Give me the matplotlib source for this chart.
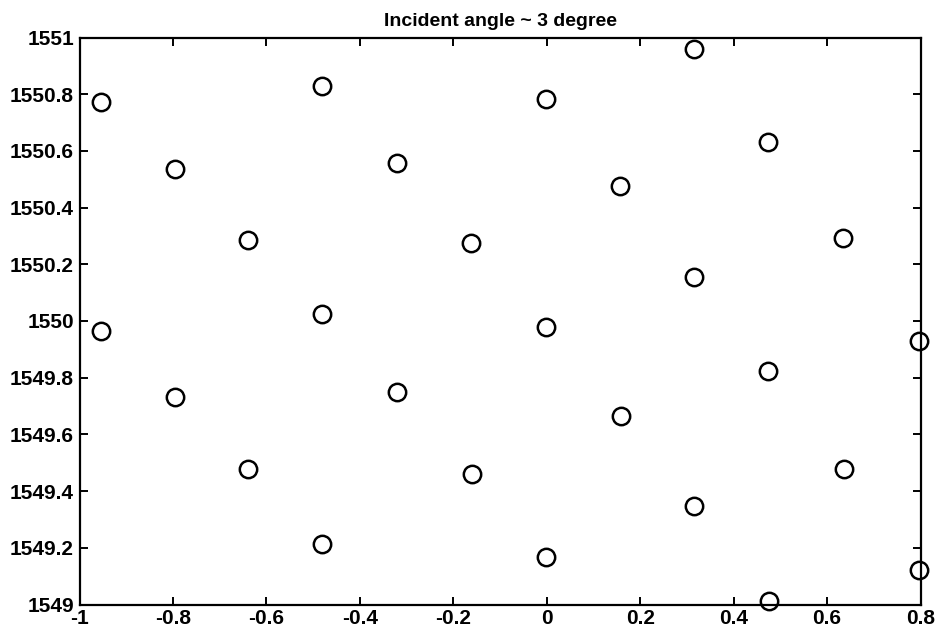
import matplotlib
matplotlib.use("Agg")
import matplotlib.pyplot as plt

# Data (wavelength vs position)
x_vals = [-0.955, -0.480, -0.796, -0.639, -0.955, -0.480,
          -0.002, -0.320, 0.157, -0.161, -0.001,
          0.315, 0.474, 0.635, 0.315,
          -0.796, -0.639, -0.481,
          -0.320, 0.158, -0.160, -0.001,
          0.796, 0.473, 0.636, 0.316, 0.797, 0.476]
y_vals = [1550.774, 1550.830, 1550.535, 1550.284, 1549.965, 1550.024,
          1550.784, 1550.558, 1550.477, 1550.274, 1549.978,
          1550.960, 1550.630, 1550.293, 1550.156,
          1549.732, 1549.477, 1549.212,
          1549.749, 1549.666, 1549.462, 1549.166,
          1549.930, 1549.823, 1549.477, 1549.348, 1549.120, 1549.014]

title_text = "Incident angle ~ 3 degree"
x_ticks = [-1, -0.8, -0.6, -0.4, -0.2, 0, 0.2, 0.4, 0.6, 0.8]
x_ticklabels = ["-1", "-0.8", "-0.6", "-0.4", "-0.2", "0", "0.2", "0.4", "0.6", "0.8"]
y_ticks = [1549, 1549.2, 1549.4, 1549.6, 1549.8, 1550, 1550.2, 1550.4, 1550.6, 1550.8, 1551]
y_ticklabels = ["1549", "1549.2", "1549.4", "1549.6", "1549.8", "1550",
                "1550.2", "1550.4", "1550.6", "1550.8", "1551"]

plt.rcParams['font.family'] = ['Liberation Sans', 'DejaVu Sans']

fig = plt.figure(figsize=(9.38, 6.37), dpi=100)
ax = fig.add_axes([79.5 / 938, 1 - 604.5 / 637, (920.5 - 79.5) / 938, (604.5 - 37.5) / 637])

ax.plot(x_vals, y_vals, linestyle='none', marker='o', markersize=12.5,
        markerfacecolor='none', markeredgecolor='black', markeredgewidth=1.8,
        clip_on=False, zorder=3)

ax.set_xlim(-1, 0.8)
ax.set_ylim(1549, 1551)
ax.set_xticks(x_ticks)
ax.set_xticklabels(x_ticklabels)
ax.set_yticks(y_ticks)
ax.set_yticklabels(y_ticklabels)

for s in ax.spines.values():
    s.set_linewidth(1.6)
    s.set_color('black')

ax.tick_params(direction='in', length=6, width=1.4, top=True, right=True,
               labelsize=15, colors='black')
ax.tick_params(axis='x', pad=3)
ax.tick_params(axis='y', pad=4)
for lbl in ax.get_xticklabels() + ax.get_yticklabels():
    lbl.set_fontweight('bold')

ax.set_title(title_text, fontsize=14, fontweight='bold', pad=8)

fig.savefig("out.png", dpi=100)
